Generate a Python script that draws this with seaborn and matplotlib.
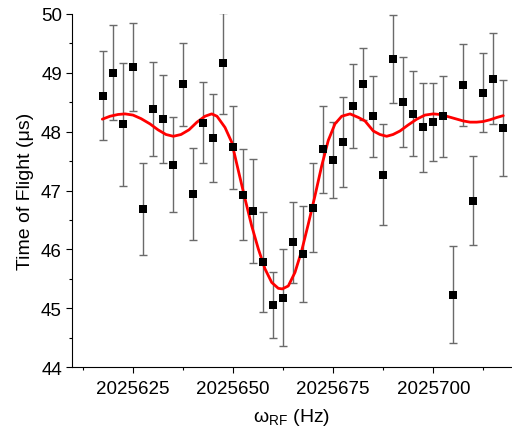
import matplotlib
matplotlib.use("Agg")
import matplotlib.pyplot as plt
import seaborn as sns
import pandas as pd
from matplotlib.ticker import MultipleLocator

# ---- data ----
freq_hz = [2025617.5, 2025620.0, 2025622.5, 2025625.0, 2025627.5, 2025630.0, 2025632.5,
           2025635.0, 2025637.5, 2025640.0, 2025642.5, 2025645.0, 2025647.5, 2025650.0,
           2025652.5, 2025655.0, 2025657.5, 2025660.0, 2025662.5, 2025665.0, 2025667.5,
           2025670.0, 2025672.5, 2025675.0, 2025677.5, 2025680.0, 2025682.5, 2025685.0,
           2025687.5, 2025690.0, 2025692.5, 2025695.0, 2025697.5, 2025700.0, 2025702.5,
           2025705.0, 2025707.5, 2025710.0, 2025712.5, 2025715.0, 2025717.5]
tof_us = [48.61, 49.00, 48.12, 49.10, 46.68, 48.38, 48.21, 47.44, 48.80, 46.94,
          48.15, 47.89, 49.16, 47.73, 46.93, 46.65, 45.78, 45.06, 45.18, 46.12,
          45.92, 46.71, 47.70, 47.52, 47.82, 48.43, 48.80, 48.26, 47.27, 49.23,
          48.50, 48.30, 48.07, 48.16, 48.26, 45.23, 48.79, 46.83, 48.66, 48.90, 48.06]
tof_err = [0.76, 0.81, 1.04, 0.75, 0.78, 0.80, 0.75, 0.80, 0.70, 0.78,
           0.69, 0.74, 0.86, 0.71, 0.77, 0.88, 0.85, 0.56, 0.82, 0.69,
           0.81, 0.75, 0.74, 0.65, 0.76, 0.71, 0.61, 0.69, 0.85, 0.75,
           0.76, 0.72, 0.75, 0.66, 0.69, 0.82, 0.70, 0.75, 0.67, 0.78, 0.81]

# fit curve, points
fit_hz = [2025617.42, 2025619.34, 2025621.33, 2025623.08, 2025625.07, 2025627.07, 2025629.32,
          2025631.31, 2025633.31, 2025635.13, 2025637.05, 2025639.05, 2025641.04, 2025643.04,
          2025644.71, 2025646.03, 2025648.03, 2025649.70, 2025651.35, 2025653.02, 2025654.69,
          2025656.34, 2025658.01, 2025659.68, 2025661.33, 2025662.33, 2025663.82, 2025665.49,
          2025667.17, 2025668.81, 2025670.48, 2025672.16, 2025673.80, 2025675.47, 2025677.15,
          2025679.22, 2025681.29, 2025682.96, 2025685.03, 2025686.70, 2025688.37, 2025689.95,
          2025691.69, 2025693.69, 2025695.86, 2025697.93, 2025700.00, 2025701.67, 2025703.34,
          2025705.41, 2025707.49, 2025709.16, 2025710.83, 2025712.40, 2025714.15, 2025715.89,
          2025717.46]
fit_tof = [48.21, 48.26, 48.29, 48.30, 48.28, 48.22, 48.13,
           48.03, 47.95, 47.92, 47.95, 48.03, 48.16, 48.26,
           48.30, 48.26, 48.07, 47.82, 47.34, 46.86, 46.40,
           46.01, 45.67, 45.44, 45.34, 45.33, 45.38, 45.61,
           45.98, 46.43, 46.91, 47.42, 47.85, 48.13, 48.26,
           48.30, 48.24, 48.18, 48.01, 47.95, 47.92, 47.95,
           48.01, 48.11, 48.21, 48.28, 48.30, 48.29, 48.26,
           48.22, 48.18, 48.16, 48.16, 48.17, 48.20, 48.24,
           48.27]

x_ticks = [2025625, 2025650, 2025675, 2025700]
y_ticks = [44, 45, 46, 47, 48, 49, 50]

data = pd.DataFrame({"freq": freq_hz, "tof": tof_us, "err": tof_err})
fit = pd.DataFrame({"freq": fit_hz, "tof": fit_tof})

sns.set_style("ticks")
plt.rcParams["font.family"] = ["Liberation Sans", "DejaVu Sans"]
plt.rcParams["mathtext.fontset"] = "custom"
plt.rcParams["mathtext.rm"] = "Liberation Sans"
plt.rcParams["mathtext.it"] = "Liberation Sans"
plt.rcParams["text.color"] = "black"
plt.rcParams["axes.labelcolor"] = "black"

W, H = 512, 431
fig = plt.figure(figsize=(W / 100, H / 100), dpi=100)
left, right, top, bottom = 71.7, 512.0, 14.7, 368.3
ax = fig.add_axes([left / W, 1 - bottom / H, (right - left) / W, (bottom - top) / H])

ax.errorbar(data["freq"], data["tof"], yerr=data["err"], fmt="none",
            ecolor="#6a6a6a", elinewidth=1.0, capsize=3.0, capthick=1.0, zorder=2)
sns.lineplot(data=fit, x="freq", y="tof", sort=False, estimator=None,
             color="#ff0000", linewidth=2.0, ax=ax, zorder=3)
sns.scatterplot(data=data, x="freq", y="tof", marker="s", s=30, color="black",
                linewidth=0, ax=ax, zorder=4)

ax.set_xlim(2025609.78, 2025719.64)
ax.set_ylim(44, 50)
ax.set_xticks(x_ticks)
ax.set_xticklabels([str(t) for t in x_ticks])
ax.set_yticks(y_ticks)
ax.set_yticklabels([str(t) for t in y_ticks])
ax.xaxis.set_minor_locator(MultipleLocator(12.5))
ax.yaxis.set_minor_locator(MultipleLocator(0.5))

for s in ["top", "right"]:
    ax.spines[s].set_visible(False)
for s in ["left", "bottom"]:
    ax.spines[s].set_linewidth(0.8)
    ax.spines[s].set_color("black")

ax.tick_params(which="major", direction="out", length=4.5, width=0.8, labelsize=13.5,
               color="black", labelcolor="black")
ax.tick_params(which="minor", direction="out", length=2.5, width=0.8, color="black")
ax.tick_params(axis="x", which="major", pad=5)
ax.tick_params(axis="y", which="major", pad=2.5)

ax.set_xlabel(r"ω$_{\rm RF}$ (Hz)", fontsize=14, labelpad=6)
ax.set_ylabel("Time of Flight (μs)", fontsize=14, labelpad=5)

fig.savefig("out.png", dpi=100)
